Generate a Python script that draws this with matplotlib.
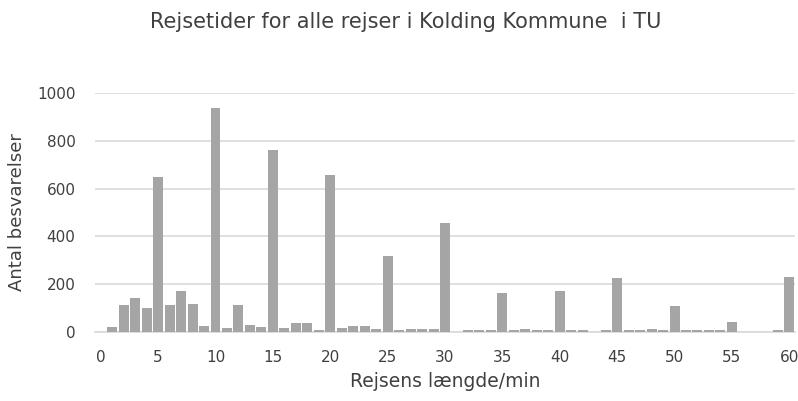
import matplotlib
matplotlib.use("Agg")
import matplotlib.pyplot as plt

minutes = list(range(0, 61))
counts = [
    0, 21, 113, 143, 99, 647, 113, 172, 118, 27,      # 0-9
    938, 17, 113, 31, 21, 763, 17, 36, 36, 7,         # 10-19
    657, 17, 27, 27, 13, 318, 7, 13, 13, 13,          # 20-29
    458, 0, 7, 7, 7, 162, 7, 13, 7, 7,                # 30-39
    172, 7, 7, 0, 7, 224, 7, 7, 13, 7,                # 40-49
    108, 7, 7, 7, 7, 41, 0, 0, 0, 7,                  # 50-59
    230,                                              # 60
]
xticks = list(range(0, 61, 5))
yticks = [0, 200, 400, 600, 800, 1000]

title = "Rejsetider for alle rejser i Kolding Kommune  i TU"
xlabel = "Rejsens længde/min"
ylabel = "Antal besvarelser"

plt.rcParams['font.family'] = ['DejaVu Sans']

fig = plt.figure(figsize=(7.98, 4.01), dpi=100)
ax = fig.add_axes([95/798, 69/401, 700/798, 239/401])

ax.bar(minutes, counts, width=0.87, color="#a5a5a5", zorder=3)

ax.set_xlim(-0.5, 60.5)
ax.set_ylim(0, 1000)
ax.set_xticks(xticks)
ax.set_yticks(yticks)
ax.yaxis.grid(True, color="#d9d9d9", linewidth=1.2, zorder=0)
ax.set_axisbelow(True)
for s in ["top", "right", "left"]:
    ax.spines[s].set_visible(False)
ax.spines["bottom"].set_color("#d9d9d9")
ax.spines["bottom"].set_linewidth(1.2)
ax.tick_params(axis="both", length=0, labelsize=11, colors="#404040")
ax.tick_params(axis="x", pad=13)
ax.tick_params(axis="y", pad=14)

ax.set_xlabel(xlabel, fontsize=13.5, color="#404040", labelpad=5)
ax.set_ylabel(ylabel, fontsize=13, color="#404040", labelpad=8)
fig.text(406/798, 0.945, title, ha="center", va="center", fontsize=15, color="#404040")

fig.savefig("out.png", dpi=100)
